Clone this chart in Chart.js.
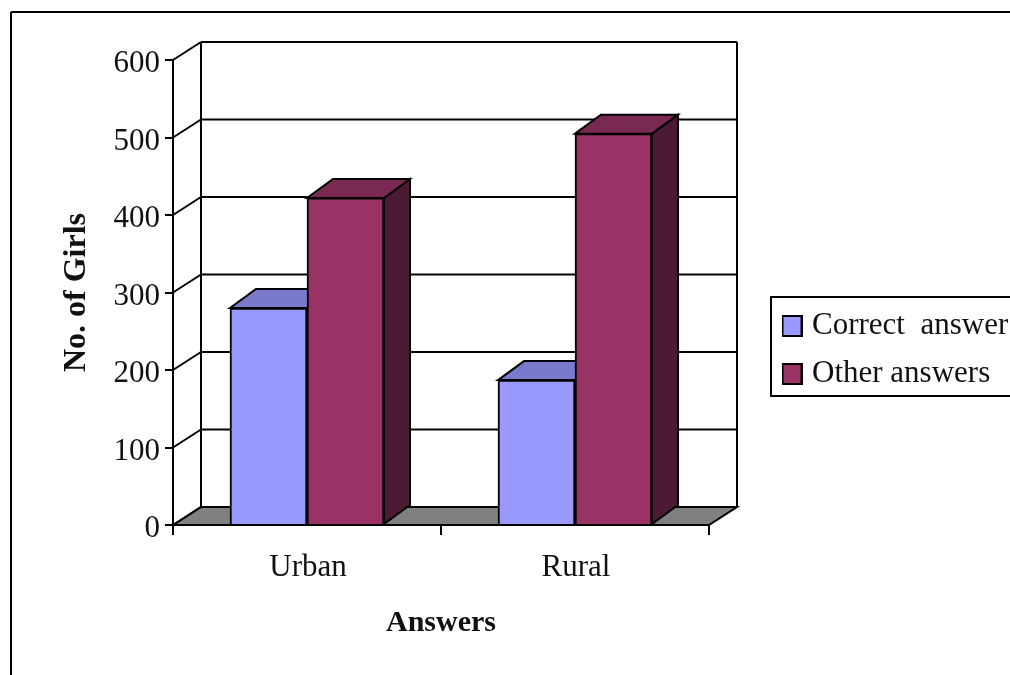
<!DOCTYPE html>
<html>
<head>
<meta charset="utf-8">
<style>
	html, body { margin: 0; padding: 0; background: #fff; overflow: hidden; }
	canvas { display: block; }
</style>
<script src="https://cdn.jsdelivr.net/npm/chart.js@4"></script>
</head>
<body>
<canvas id="chart" width="1010" height="675"></canvas>
<script>
var categories = ['Urban', 'Rural'];
var correctAnswer = [280, 187];
var otherAnswers = [422, 505];
var seriesNames = ['Correct  answer', 'Other answers'];
var yTicks = [0, 100, 200, 300, 400, 500, 600];

var FONT = '"Liberation Serif", "Times New Roman", serif';
var INK = '#000';
var faces = [
	{ front: '#9999ff', top: '#7a7acc', side: '#4d4d80' },
	{ front: '#993366', top: '#7a2952', side: '#4d1a33' }
];
var wallDepth = { x: 28, y: -18 };
var barDepth = { x: 26, y: -19 };

function poly(ctx, pts, fill) {
	ctx.beginPath();
	pts.forEach(function (p, i) {
		if (i === 0) ctx.moveTo(p[0], p[1]); else ctx.lineTo(p[0], p[1]);
	});
	ctx.closePath();
	if (fill) { ctx.fillStyle = fill; ctx.fill(); }
	ctx.stroke();
}

function line(ctx, x1, y1, x2, y2) {
	ctx.beginPath();
	ctx.moveTo(x1, y1);
	ctx.lineTo(x2, y2);
	ctx.stroke();
}

// legend swatches are wider than the gap chart.js leaves before the text
function swatch(color) {
	var c = document.createElement('canvas');
	c.width = 21;
	c.height = 22;
	var g = c.getContext('2d');
	g.fillStyle = color;
	g.fillRect(0, 0, 21, 22);
	g.strokeStyle = INK;
	g.lineWidth = 2;
	g.strokeRect(1, 1, 19, 20);
	return c;
}

// the original's labels sit a little off where chart.js centres them
function nudgeLabels(scale, dx, dy) {
	scale.getLabelItems().forEach(function (item) {
		item.options.translation = [item.options.translation[0] + dx, item.options.translation[1] + dy];
	});
}

var framePlugin = {
	id: 'frames',
	afterLayout: function (chart) {
		var lg = chart.legend;
		lg.left = 770.5;
		lg.top = 293.5;
		lg.right = lg.left + lg.width;
		// roomy bottom, otherwise the legend wraps its second row into a new column
		lg.bottom = lg.top + 130;
		nudgeLabels(chart.scales.y, 0, 4);
		nudgeLabels(chart.scales.x, 1, 0);
	},
	beforeDraw: function (chart) {
		var ctx = chart.ctx;
		ctx.save();
		ctx.strokeStyle = INK;
		ctx.lineWidth = 2;
		line(ctx, 11, 12, 1010, 12);
		line(ctx, 11, 12, 11, 675);
		ctx.strokeRect(771, 297, 260, 99);
		ctx.restore();
	}
};

var depthPlugin = {
	id: 'depth',
	beforeDatasetsDraw: function (chart) {
		var ctx = chart.ctx;
		var a = chart.chartArea;
		var y = chart.scales.y;
		var dx = wallDepth.x, dy = wallDepth.y;
		ctx.save();
		ctx.strokeStyle = INK;
		ctx.lineWidth = 2;
		ctx.lineJoin = 'miter';

		// floor, then the two walls
		poly(ctx, [[a.left, a.bottom], [a.left + dx, a.bottom + dy], [a.right + dx, a.bottom + dy], [a.right, a.bottom]], '#808080');
		line(ctx, a.left + dx, a.top + dy, a.left + dx, a.bottom + dy);
		line(ctx, a.right + dx, a.top + dy, a.right + dx, a.bottom + dy);
		yTicks.forEach(function (v) {
			var py = y.getPixelForValue(v);
			line(ctx, a.left, py, a.left + dx, py + dy);
			if (v > 0) line(ctx, a.left + dx, py + dy, a.right + dx, py + dy);
		});

		// bar tops and sides, the front faces come from chart.js afterwards
		chart.data.datasets.forEach(function (ds, i) {
			chart.getDatasetMeta(i).data.forEach(function (bar) {
				var l = bar.x - bar.width / 2, r = bar.x + bar.width / 2;
				var t = bar.y, b = bar.base;
				var ox = barDepth.x, oy = barDepth.y;
				poly(ctx, [[r, t], [r + ox, t + oy], [r + ox, b + oy], [r, b]], faces[i].side);
				poly(ctx, [[l, t], [l + ox, t + oy], [r + ox, t + oy], [r, t]], faces[i].top);
			});
		});
		ctx.restore();
	}
};

new Chart(document.getElementById('chart'), {
	type: 'bar',
	data: {
		labels: categories,
		datasets: [
			{ label: seriesNames[0], data: correctAnswer, backgroundColor: faces[0].front, borderColor: INK, borderWidth: 2 },
			{ label: seriesNames[1], data: otherAnswers, backgroundColor: faces[1].front, borderColor: INK, borderWidth: 2 }
		]
	},
	options: {
		responsive: false,
		animation: false,
		layout: { padding: { left: 0, top: 60, right: 301, bottom: 0 } },
		barThickness: 77,
		plugins: {
			tooltip: { enabled: false },
			legend: {
				position: 'chartArea',
				align: 'start',
				labels: {
					color: '#111',
					font: { family: FONT, size: 31 },
					padding: 17,
					usePointStyle: true,
					pointStyleWidth: 9,
					generateLabels: function (chart) {
						var items = Chart.defaults.plugins.legend.labels.generateLabels(chart);
						items.forEach(function (item, i) {
							item.pointStyle = swatch(faces[i].front);
						});
						return items;
					}
				}
			}
		},
		scales: {
			x: {
				afterFit: function (scale) { scale.height = 150; },
				grid: { drawOnChartArea: false, color: INK, lineWidth: 2, tickLength: 10 },
				border: { color: INK, width: 2 },
				ticks: { color: '#111', padding: 14, font: { family: FONT, size: 31 }, maxRotation: 0 },
				title: {
					display: true,
					text: 'Answers',
					color: '#111',
					font: { family: FONT, size: 30, weight: 'bold' },
					padding: { top: 20, bottom: 34 }
				}
			},
			y: {
				min: 0,
				max: 600,
				afterFit: function (scale) { scale.width = 173; },
				afterBuildTicks: function (scale) {
					scale.ticks = yTicks.map(function (v) { return { value: v }; });
				},
				grid: { drawOnChartArea: false, color: INK, lineWidth: 2, tickLength: 8 },
				border: { color: INK, width: 2 },
				ticks: { color: '#111', padding: 5, font: { family: FONT, size: 31 } },
				title: {
					display: true,
					text: 'No. of Girls',
					color: '#111',
					font: { family: FONT, size: 32, weight: 'bold' },
					padding: { top: 58, bottom: 0 }
				}
			}
		}
	},
	plugins: [framePlugin, depthPlugin]
});
</script>
</body>
</html>
